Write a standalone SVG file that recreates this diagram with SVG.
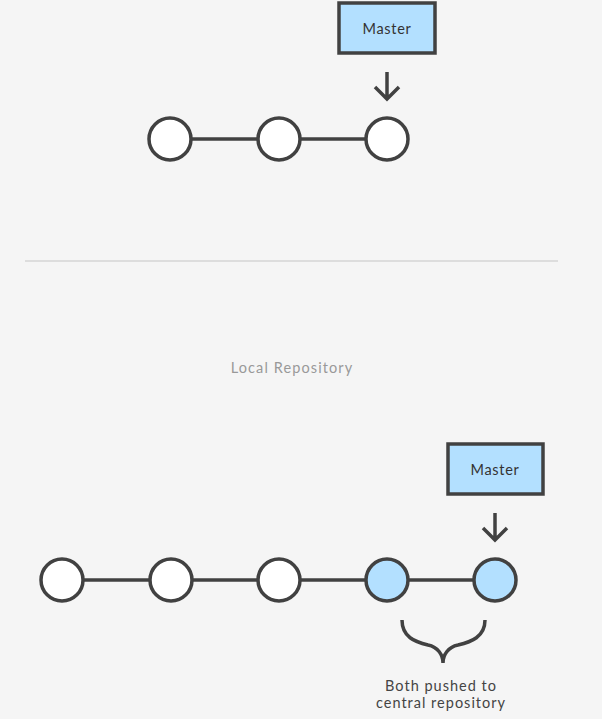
<svg xmlns="http://www.w3.org/2000/svg" width="602" height="719" viewBox="0 0 602 719">
<style>
.bg{fill:#f5f5f5}
.commit{fill:#ffffff;stroke:#414141;stroke-width:3.5}
.commit.new{fill:#b3e0ff}
.box{fill:#b3e0ff;stroke:#414141;stroke-width:3.5}
.edge{stroke:#414141;stroke-width:3.5;fill:none}
.lbl{font-family:"Lato","Liberation Sans",sans-serif;font-size:14.5px;fill:#333;text-anchor:middle;letter-spacing:0.7px}
.cap{font-family:"Lato","Liberation Sans",sans-serif;font-size:14.5px;fill:#999;text-anchor:middle;letter-spacing:1.1px}
.note{font-family:"Lato","Liberation Sans",sans-serif;font-size:14.5px;fill:#444;text-anchor:middle;letter-spacing:1px}
</style>
<rect class="bg" x="0" y="0" width="602" height="719"/>
<line x1="25" y1="261" x2="558" y2="261" stroke="#dddddd" stroke-width="2"/>
<g id="connectors">
<line class="edge" x1="170" y1="139" x2="387" y2="139"/>
<path class="edge" d="M387,72 V99 M375,87 L387,99 L399,87"/>
<line class="edge" x1="62" y1="580" x2="495" y2="580"/>
<path class="edge" d="M495,513 V540 M483,528 L495,540 L507,528"/>
<path class="edge" d="M402,620 C402,637 415,642 428,645 C438,647 443,655 443,663 C443,655 448,647 458,645 C471,642 485,637 485,620"/>
</g>
<g id="master-top"><rect class="box" x="339" y="3" width="96" height="50"/><text class="lbl" x="387" y="34">Master</text></g>
<g id="c1"><circle class="commit" cx="170" cy="139" r="21"/></g>
<g id="c2"><circle class="commit" cx="279" cy="139" r="21"/></g>
<g id="c3"><circle class="commit" cx="387" cy="139" r="21"/></g>
<text class="cap" x="292" y="373">Local Repository</text>
<g id="master-bottom"><rect class="box" x="448" y="444" width="95" height="50"/><text class="lbl" x="495" y="475">Master</text></g>
<g id="l1"><circle class="commit" cx="62" cy="580" r="21"/></g>
<g id="l2"><circle class="commit" cx="171" cy="580" r="21"/></g>
<g id="l3"><circle class="commit" cx="279" cy="580" r="21"/></g>
<g id="l4"><circle class="commit new" cx="387" cy="580" r="21"/></g>
<g id="l5"><circle class="commit new" cx="495" cy="580" r="21"/></g>
<g id="note"><text class="note" x="441" y="691">Both pushed to</text><text class="note" x="441" y="708">central repository</text></g>
</svg>
